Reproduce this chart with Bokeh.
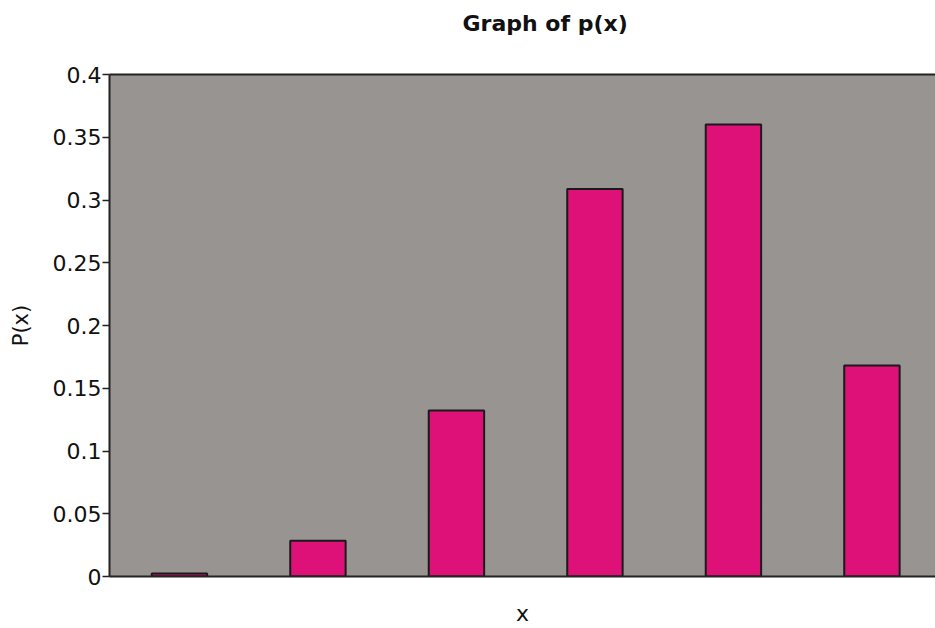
from bokeh.plotting import figure
from bokeh.layouts import column
from bokeh.models import Range1d, FixedTicker, NumeralTickFormatter, Title, ColumnDataSource, LinearAxis
from bokeh.embed import file_html
from bokeh.resources import INLINE

# Data
x_values = [0, 1, 2, 3, 4, 5]
p_values = [0.0024, 0.0284, 0.1323, 0.3087, 0.3602, 0.1681]
y_ticks = [0, 0.05, 0.1, 0.15, 0.2, 0.25, 0.3, 0.35, 0.4]
title_text = "Graph of p(x)"

FONT = "DejaVu Sans"
BAR_COLOR = "#DD1177"
BG_COLOR = "#989491"
INK = "#222222"

# ---- title strip (a frameless figure that only carries the title) ----
head = figure(width=935, height=46, output_backend="svg", toolbar_location=None,
              x_axis_location=None, y_axis_location=None,
              min_border_left=0, min_border_right=0, min_border_top=0, min_border_bottom=0)
head.title = Title(text=title_text, align="left", offset=353,
                   text_font=FONT, text_font_size="22px", text_font_style="bold",
                   text_color="#111111", standoff=16)
head.background_fill_color = "white"
head.border_fill_color = "white"
head.outline_line_color = None
head.xgrid.visible = False
head.ygrid.visible = False

# ---- main chart ----
source = ColumnDataSource(dict(x=x_values, p=p_values))

p = figure(
    width=935, height=582,
    x_range=Range1d(-0.505, 5.459), y_range=Range1d(0, 0.4),
    output_backend="svg", toolbar_location=None,
    min_border_left=109, min_border_right=0, min_border_top=28, min_border_bottom=51,
)
p.title.visible = False

p.background_fill_color = BG_COLOR
p.border_fill_color = "white"
p.outline_line_color = None

# top border line of the plot area
top_axis = LinearAxis(ticker=FixedTicker(ticks=[]), axis_line_color=INK, axis_line_width=2,
                      major_tick_line_color=None, minor_tick_line_color=None)
p.add_layout(top_axis, "above")

p.vbar(x="x", top="p", width=0.40, bottom=0, source=source,
       fill_color=BAR_COLOR, line_color="#1a1a1a", line_width=2)

p.xgrid.visible = False
p.ygrid.visible = False

# y axis
yaxis = p.left[0]
yaxis.ticker = FixedTicker(ticks=y_ticks)
yaxis.formatter = NumeralTickFormatter(format="0.[00]")
yaxis.major_tick_out = 7
yaxis.major_tick_in = 0
yaxis.minor_tick_line_color = None
yaxis.axis_line_color = INK
yaxis.axis_line_width = 2
yaxis.major_tick_line_color = INK
yaxis.major_tick_line_width = 1.5
yaxis.major_label_text_font = FONT
yaxis.major_label_text_font_size = "22px"
yaxis.major_label_text_color = "#111111"
yaxis.major_label_standoff = 1
yaxis.axis_label = "P(x)"
yaxis.axis_label_text_font = FONT
yaxis.axis_label_text_font_size = "21px"
yaxis.axis_label_text_font_style = "normal"
yaxis.axis_label_text_color = "#111111"
yaxis.axis_label_standoff = 17

# x axis (bottom)
xaxis = p.below[0]
xaxis.ticker = FixedTicker(ticks=[])
xaxis.major_tick_line_color = None
xaxis.minor_tick_line_color = None
xaxis.major_tick_out = 0
xaxis.major_tick_in = 0
xaxis.axis_line_color = INK
xaxis.axis_line_width = 2
xaxis.axis_label = "x"
xaxis.axis_label_text_font = FONT
xaxis.axis_label_text_font_size = "22px"
xaxis.axis_label_text_font_style = "normal"
xaxis.axis_label_text_color = "#111111"
xaxis.axis_label_standoff = 24

layout = column(head, p, spacing=0)
open("out.html", "w").write(file_html(layout, INLINE))
